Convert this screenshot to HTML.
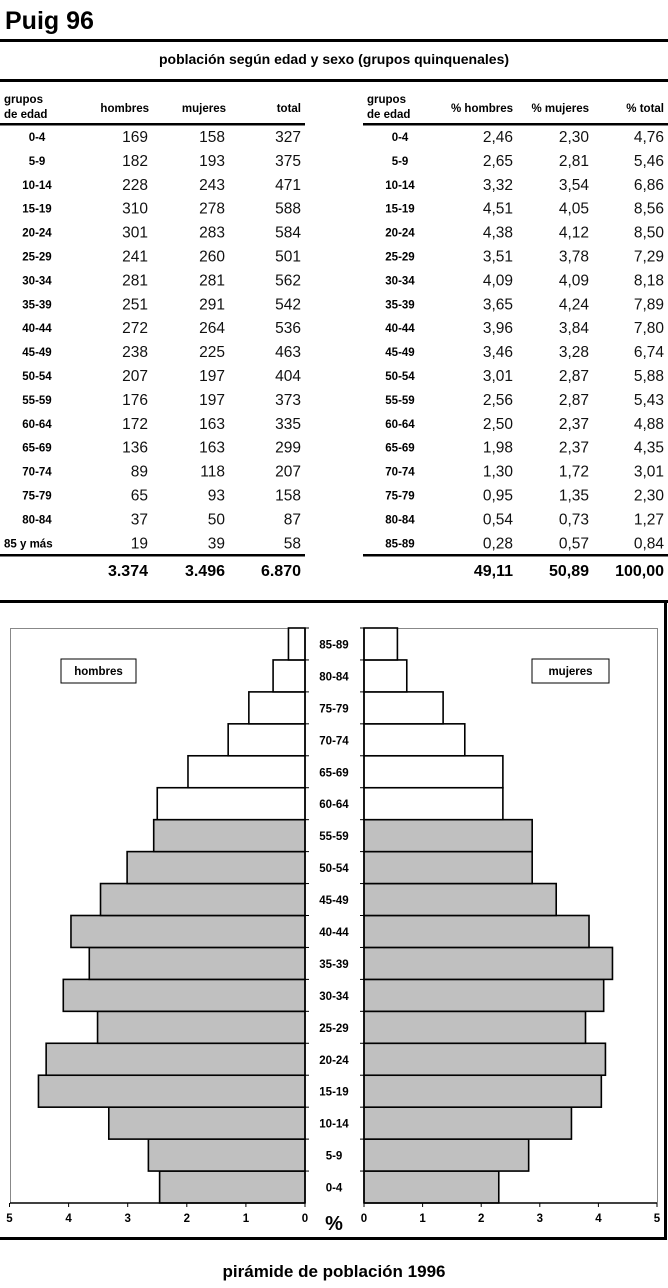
<!DOCTYPE html>
<html><head><meta charset="utf-8"><style>
html,body{margin:0;padding:0;background:#fff;}
svg{display:block;}
.b{font-family:"Liberation Sans",Arial,sans-serif;font-weight:bold;}
.n{font-family:"Liberation Sans",Arial,sans-serif;font-size:15.5px;fill:#111;}
.lab{font-family:"Liberation Sans",Arial,sans-serif;font-weight:bold;font-size:11.5px;}
</style></head><body>
<svg id="s" width="668" height="1288" viewBox="0 0 668 1288" xmlns="http://www.w3.org/2000/svg">
<text x="5" y="29" class="b" font-size="25">Puig 96</text>
<rect x="0" y="39" width="668" height="3" fill="#000"/>
<text x="334" y="64" class="b" font-size="14" text-anchor="middle">población según edad y sexo (grupos quinquenales)</text>
<rect x="0" y="79" width="668" height="3" fill="#000"/>
<g class="lab" font-size="12">
<text x="4" y="103">grupos</text><text x="4" y="118">de edad</text>
<text x="149" y="112" text-anchor="end">hombres</text>
<text x="226" y="112" text-anchor="end">mujeres</text>
<text x="301" y="112" text-anchor="end">total</text>
<text x="367" y="103">grupos</text><text x="367" y="118">de edad</text>
<text x="513" y="112" text-anchor="end">% hombres</text>
<text x="589" y="112" text-anchor="end">% mujeres</text>
<text x="664" y="112" text-anchor="end">% total</text>
</g>
<rect x="0" y="123" width="305" height="2.5" fill="#000"/>
<rect x="363" y="123" width="305" height="2.5" fill="#000"/>
<g id="rows"></g>
<rect x="0" y="554" width="305" height="2.5" fill="#000"/>
<rect x="363" y="554" width="305" height="2.5" fill="#000"/>
<g class="b" font-size="16">
<text x="148" y="576" text-anchor="end">3.374</text>
<text x="225" y="576" text-anchor="end">3.496</text>
<text x="301" y="576" text-anchor="end">6.870</text>
<text x="513" y="576" text-anchor="end">49,11</text>
<text x="589" y="576" text-anchor="end">50,89</text>
<text x="664" y="576" text-anchor="end">100,00</text>
</g>
<rect x="0" y="600" width="668" height="3" fill="#000"/>
<rect x="664" y="600" width="3" height="640" fill="#000"/>
<rect x="0" y="1237" width="667" height="3" fill="#000"/>
<path d="M10.5 1203 V628.5 H305 M364 628.5 H657.5 V1203" fill="none" stroke="#888" stroke-width="1"/>
<g id="bars"></g>
<rect x="61" y="659" width="75" height="24" fill="#fff" stroke="#000" stroke-width="1"/>
<text x="98.5" y="675" class="lab" text-anchor="middle">hombres</text>
<rect x="532" y="659" width="77" height="24" fill="#fff" stroke="#000" stroke-width="1"/>
<text x="570.5" y="675" class="lab" text-anchor="middle">mujeres</text>
<text x="334" y="1230" class="b" font-size="20" text-anchor="middle">%</text>
<text x="334" y="1277" class="b" font-size="17" text-anchor="middle">pirámide de población 1996</text>
</svg>
<script>
(function(){
var NS="http://www.w3.org/2000/svg";
function el(p,t,a,txt){var e=document.createElementNS(NS,t);for(var k in a)e.setAttribute(k,a[k]);if(txt!=null)e.textContent=txt;p.appendChild(e);return e;}
var labs=["0-4","5-9","10-14","15-19","20-24","25-29","30-34","35-39","40-44","45-49","50-54","55-59","60-64","65-69","70-74","75-79","80-84","85 y más"];
var h=[169,182,228,310,301,241,281,251,272,238,207,176,172,136,89,65,37,19];
var m=[158,193,243,278,283,260,281,291,264,225,197,197,163,163,118,93,50,39];
var t=[327,375,471,588,584,501,562,542,536,463,404,373,335,299,207,158,87,58];
var ph=["2,46","2,65","3,32","4,51","4,38","3,51","4,09","3,65","3,96","3,46","3,01","2,56","2,50","1,98","1,30","0,95","0,54","0,28"];
var pm=["2,30","2,81","3,54","4,05","4,12","3,78","4,09","4,24","3,84","3,28","2,87","2,87","2,37","2,37","1,72","1,35","0,73","0,57"];
var pt=["4,76","5,46","6,86","8,56","8,50","7,29","8,18","7,89","7,80","6,74","5,88","5,43","4,88","4,35","3,01","2,30","1,27","0,84"];
var R=document.getElementById("rows");
for(var i=0;i<18;i++){
 var y=142+23.9*i;
 el(R,"text",{x:i==17?4:37,y:y-1,"class":"lab","text-anchor":i==17?"start":"middle"},labs[i]);
 el(R,"text",{x:148,y:y,"class":"n","text-anchor":"end"},h[i]);
 el(R,"text",{x:225,y:y,"class":"n","text-anchor":"end"},m[i]);
 el(R,"text",{x:301,y:y,"class":"n","text-anchor":"end"},t[i]);
 el(R,"text",{x:400,y:y-1,"class":"lab","text-anchor":"middle"},i==17?"85-89":labs[i]);
 el(R,"text",{x:513,y:y,"class":"n","text-anchor":"end"},ph[i]);
 el(R,"text",{x:589,y:y,"class":"n","text-anchor":"end"},pm[i]);
 el(R,"text",{x:664,y:y,"class":"n","text-anchor":"end"},pt[i]);
}
var B=document.getElementById("bars");
var ptop=628,bot=1203,bh=(bot-ptop)/18;
for(var i=0;i<18;i++){
 var y=bot-(i+1)*bh;
 var vh=parseFloat(ph[i].replace(",",".")),vm=parseFloat(pm[i].replace(",","."));
 var fill=i>=12?"#fff":"#c0c0c0";
 var wl=vh*59.1;
 el(B,"rect",{x:305-wl,y:y,width:wl,height:bh,fill:fill,stroke:"#000","stroke-width":1.6});
 var wr=vm*58.6;
 el(B,"rect",{x:364,y:y,width:wr,height:bh,fill:fill,stroke:"#000","stroke-width":1.6});
 el(B,"text",{x:334,y:y+bh/2+4.5,"class":"lab","text-anchor":"middle"},i==17?"85-89":labs[i]);
 el(B,"line",{x1:305,x2:309,y1:y,y2:y,stroke:"#000","stroke-width":1});
 el(B,"line",{x1:360,x2:364,y1:y,y2:y,stroke:"#000","stroke-width":1});
}
el(B,"line",{x1:305,x2:305,y1:ptop,y2:bot,stroke:"#000","stroke-width":1.5});
el(B,"line",{x1:364,x2:364,y1:ptop,y2:bot,stroke:"#000","stroke-width":1.5});
el(B,"line",{x1:10,x2:305,y1:bot,y2:bot,stroke:"#000","stroke-width":1.5});
el(B,"line",{x1:364,x2:657,y1:bot,y2:bot,stroke:"#000","stroke-width":1.5});
for(var k=0;k<=5;k++){
 var xl=305-k*59.1,xr=364+k*58.6;
 el(B,"line",{x1:xl,x2:xl,y1:bot,y2:bot+4,stroke:"#000","stroke-width":1});
 el(B,"line",{x1:xr,x2:xr,y1:bot,y2:bot+4,stroke:"#000","stroke-width":1});
 el(B,"text",{x:xl,y:1222,"class":"lab","font-size":"10","text-anchor":"middle"},k);
 el(B,"text",{x:xr,y:1222,"class":"lab","font-size":"10","text-anchor":"middle"},k);
}
})();
</script>
</body></html>
